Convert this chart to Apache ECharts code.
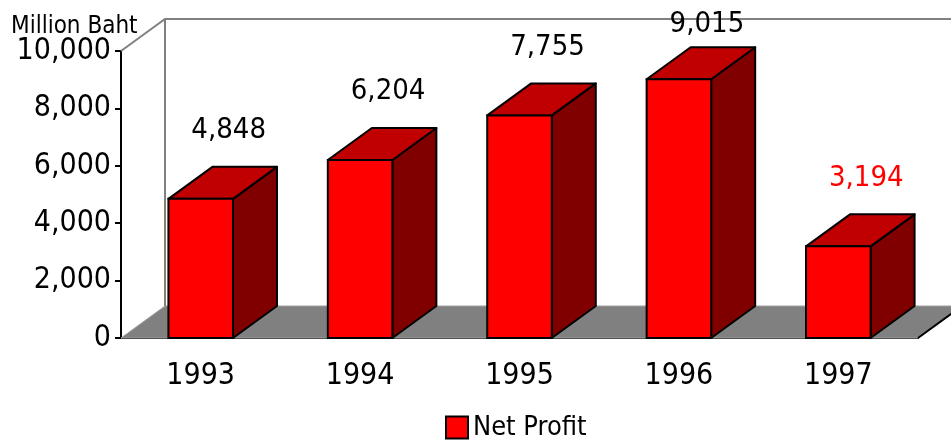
<!DOCTYPE html>
<html>
<head>
<meta charset="utf-8">
<script src="https://cdn.jsdelivr.net/npm/echarts@6/dist/echarts.min.js"></script>
<style>
  html, body { margin: 0; padding: 0; background: #fff; }
  #main { width: 951px; height: 441px; }
</style>
</head>
<body>
<div id="main"></div>
<script>
var years = ['1993', '1994', '1995', '1996', '1997'];
var netProfit = [4848, 6204, 7755, 9015, 3194];
var yTicks = [0, 2000, 4000, 6000, 8000, 10000];
var highlightYear = '1997';

(function () {
  var myChart = echarts.init(document.getElementById('main'));
  var font = '"Liberation Sans Narrow", "DejaVu Sans Condensed", sans-serif';
  // depth of the fake 3d box, in pixels
  var dx = 44, dy = -32;

  function fmt(v) {
    return v.toLocaleString('en-US');
  }

  function renderWalls(params, api) {
    var cs = params.coordSys;
    var x = cs.x, y = cs.y, w = cs.width, h = cs.height;
    return {
      type: 'group',
      children: [
        {
          type: 'polygon',
          shape: { points: [[x, y + h], [x + dx, y + h + dy], [x + w + dx, y + h + dy], [x + w, y + h]] },
          style: { fill: '#808080', stroke: '#a0a0a0', lineWidth: 1 }
        },
        {
          type: 'polyline',
          shape: { points: [[x, y], [x + dx, y + dy], [x + w + dx, y + dy]] },
          style: { fill: null, stroke: '#808080', lineWidth: 2 }
        },
        {
          type: 'line',
          shape: { x1: x + dx, y1: y + dy, x2: x + dx, y2: y + h + dy },
          style: { stroke: '#808080', lineWidth: 2 }
        },
        {
          type: 'line',
          shape: { x1: x + w, y1: y + h, x2: x + w + dx, y2: y + h + dy },
          style: { stroke: '#000', lineWidth: 2 }
        }
      ]
    };
  }

  function renderBar(params, api) {
    var idx = api.value(0);
    var val = api.value(1);
    var top = api.coord([idx, val]);
    var base = api.coord([idx, 0]);
    var bw = api.size([1, 0])[0] * 0.405;
    var l = top[0] - bw / 2, r = top[0] + bw / 2;
    var yt = top[1], yb = base[1];
    var labelY = Math.max(yt + dy - 36, 24);
    return {
      type: 'group',
      children: [
        {
          type: 'polygon',
          shape: { points: [[r, yb], [r + dx, yb + dy], [r + dx, yt + dy], [r, yt]] },
          style: { fill: '#800000', stroke: '#000', lineWidth: 2, lineJoin: 'round' }
        },
        {
          type: 'polygon',
          shape: { points: [[l, yt], [l + dx, yt + dy], [r + dx, yt + dy], [r, yt]] },
          style: { fill: '#c00000', stroke: '#000', lineWidth: 2, lineJoin: 'round' }
        },
        {
          type: 'rect',
          shape: { x: l, y: yt, width: bw, height: yb - yt },
          style: { fill: '#ff0000', stroke: '#000', lineWidth: 2 }
        },
        {
          type: 'text',
          x: top[0] + 28,
          y: labelY,
          style: {
            text: fmt(val),
            fill: years[idx] === highlightYear ? '#ff0000' : '#000',
            font: '29px ' + font,
            align: 'center',
            verticalAlign: 'middle'
          }
        }
      ]
    };
  }

  var option = {
    animation: false,
    title: {
      text: 'Million Baht',
      left: 6,
      top: 10,
      textStyle: { fontFamily: font, fontSize: 24, fontWeight: 'normal', color: '#000' }
    },
    legend: {
      left: 440,
      top: 409,
      itemWidth: 22,
      itemHeight: 22,
      itemGap: 8,
      textStyle: { fontFamily: font, fontSize: 27, color: '#000' },
      data: [{
        name: 'Net Profit',
        icon: 'rect',
        itemStyle: { color: '#ff0000', borderColor: '#000', borderWidth: 2 }
      }]
    },
    grid: {
      left: 121,
      right: 33,
      top: 51,
      bottom: 103
    },
    xAxis: {
      type: 'category',
      data: years,
      axisLine: { lineStyle: { color: '#000', width: 2 } },
      axisTick: { length: 6, lineStyle: { color: '#000', width: 2 } },
      axisLabel: { margin: 23, color: '#000', fontFamily: font, fontSize: 30 }
    },
    yAxis: {
      type: 'value',
      min: yTicks[0],
      max: yTicks[yTicks.length - 1],
      interval: yTicks[1] - yTicks[0],
      splitLine: { show: false },
      axisLine: { show: true, lineStyle: { color: '#000', width: 2 } },
      axisTick: { show: true, length: 6, lineStyle: { color: '#000', width: 2 } },
      axisLabel: {
        margin: 10,
        color: '#000',
        fontFamily: font,
        fontSize: 30,
        formatter: function (v) { return fmt(v); }
      }
    },
    series: [
      {
        name: 'walls',
        type: 'custom',
        silent: true,
        z: 1,
        renderItem: renderWalls,
        data: [[0, 0]]
      },
      {
        name: 'Net Profit',
        type: 'custom',
        z: 3,
        itemStyle: { color: '#ff0000', borderColor: '#000', borderWidth: 2 },
        renderItem: renderBar,
        data: netProfit.map(function (v, i) { return [i, v]; })
      }
    ]
  };

  myChart.setOption(option);
})();
</script>
</body>
</html>
